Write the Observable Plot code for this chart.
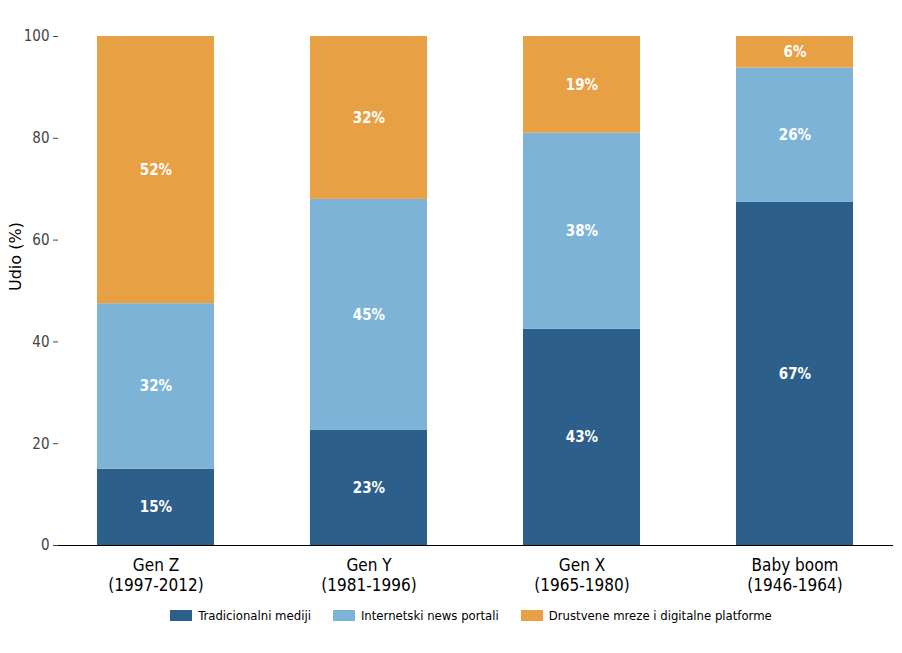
<!DOCTYPE html>
<html><head><meta charset="utf-8">
<script src="https://cdn.jsdelivr.net/npm/d3@7"></script>
<script src="https://cdn.jsdelivr.net/npm/@observablehq/plot@0.6"></script>
<style>
body{margin:0;background:#fff;font-family:"DejaVu Sans Condensed",sans-serif;}
.legend{display:flex;justify-content:center;gap:22px;font-size:13px;margin-top:8px;margin-left:40px;color:#000}
.legend span{display:inline-flex;align-items:center;gap:6px}
.legend i{display:inline-block;width:22px;height:11px}
</style></head><body>
<div id="chart"></div>
<div class="legend" id="legend"></div>
<script>
const categories = ["Gen Z\n(1997-2012)","Gen Y\n(1981-1996)","Gen X\n(1965-1980)","Baby boom\n(1946-1964)"];
const seriesNames = ["Tradicionalni mediji","Internetski news portali","Drustvene mreze i digitalne platforme"];
const colors = ["#2c5f8a","#7db3d6","#e8a044"];
const tradicionalni = [15, 22.6, 42.5, 67.4];
const portali = [32.5, 45.4, 38.5, 26.4];
const mreze = [52.5, 32.0, 19.0, 6.2];
const labels = [[15,32,52],[23,45,32],[43,38,19],[67,26,6]];
const series = [tradicionalni, portali, mreze];
const data = [];
categories.forEach((c,i)=>series.forEach((s,j)=>data.push({cat:c, series:seriesNames[j], value:s[i], label:labels[i][j]+"%"})));
const plot = Plot.plot({
  width:902, height:600,
  marginLeft:58, marginRight:9, marginTop:36, marginBottom:55,
  style:{fontFamily:"'DejaVu Sans Condensed',sans-serif", fontSize:"15px"},
  x:{domain:categories, paddingInner:0.45, paddingOuter:0.185, label:null},
  y:{domain:[0,100], label:null},
  color:{domain:seriesNames, range:colors},
  marks:[
    Plot.barY(data, {x:"cat", y:"value", fill:"series", order:seriesNames}),
    Plot.text(data, Plot.stackY({x:"cat", y:"value", z:"series", order:seriesNames, text:"label", fill:"white", fontWeight:"bold", fontSize:15})),
    Plot.axisX({tickSize:0, tickPadding:12, fontSize:17, lineHeight:1.15, label:null}),
    Plot.axisY({ticks:[0,20,40,60,80,100], tickSize:5, fontSize:15, color:"#444", label:null}),
    Plot.text(["Udio (%)"], {frameAnchor:"left", dx:-43, rotate:-90, fontSize:16, fontFamily:"DejaVu Sans"}),
    Plot.ruleY([0], {stroke:"black"})
  ]
});
document.getElementById("chart").appendChild(plot);
const lg=document.getElementById("legend");
seriesNames.forEach((n,i)=>{const s=document.createElement("span");s.innerHTML=`<i style="background:${colors[i]}"></i>${n}`;lg.appendChild(s);});
</script></body></html>
